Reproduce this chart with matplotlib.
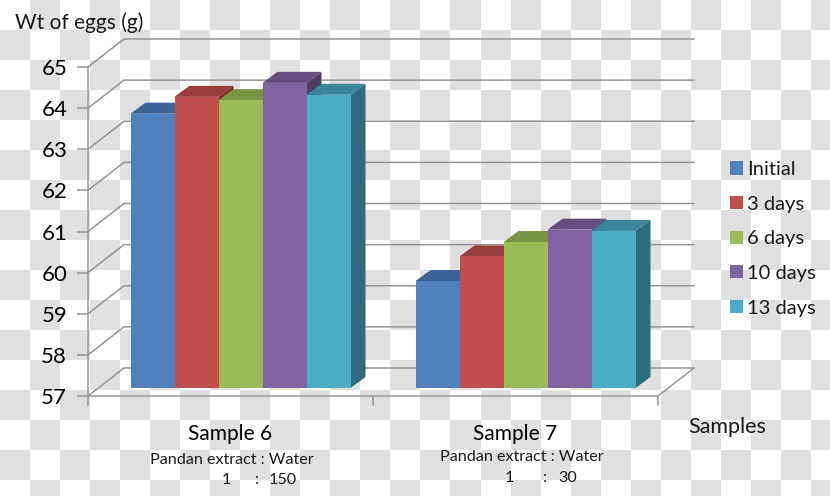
import matplotlib

matplotlib.use("Agg")
import matplotlib.pyplot as plt
import numpy as np

plt.rcParams["font.family"] = ["Lato", "DejaVu Sans"]

W, H = 830, 496

samples = ["Sample 6", "Sample 7"]
series = ["Initial", "3 days", "6 days", "10 days", "13 days"]
sample6 = [63.67, 64.08, 64.0, 64.42, 64.13]
sample7 = [59.6, 60.2, 60.55, 60.85, 60.82]
y_ticks = [57, 58, 59, 60, 61, 62, 63, 64, 65]

front_colors = ["#4f81bd", "#c0504d", "#9bbb59", "#8064a2", "#4bacc6"]
top_colors = ["#3b6396", "#973e3b", "#7a9446", "#644e80", "#3a869b"]
side_colors = ["#2f4d75", "#763130", "#5f7337", "#4e3d64", "#2e6b7c"]
grid_color = "#969696"

# pixel helpers, the chart is an oblique 3d look faked on a 2d axes
X0, X1, Y0, Y1 = 88, 658, 396, 67
PX_X = 2 / (X1 - X0)
PX_Y = (y_ticks[-1] - y_ticks[0]) / (Y0 - Y1)


def fig_xy(x, y):
    return x / W, 1 - y / H


fig = plt.figure(figsize=(W / 100, H / 100), dpi=100)

# checkerboard behind everything
bg = fig.add_axes([0, 0, 1, 1], zorder=0)
tiles = np.indices((H // 30 + 1, W // 30 + 1)).sum(axis=0) % 2
bg.imshow(
    tiles,
    cmap=matplotlib.colors.ListedColormap(["#ffffff", "#e0e0e0"]),
    extent=(0, 30 * tiles.shape[1], 30 * tiles.shape[0], 0),
    interpolation="nearest",
    aspect="auto",
)
bg.set_xlim(0, W)
bg.set_ylim(H, 0)
bg.axis("off")

ax = fig.add_axes(
    [X0 / W, 1 - Y0 / H, (X1 - X0) / W, (Y0 - Y1) / H], zorder=1, facecolor="none"
)
ax.set_xlim(0, 2)
ax.set_ylim(y_ticks[0], y_ticks[-1])

# back wall and the left / floor edges
back_dx, back_dy = 36 * PX_X, 28 * PX_Y
for v in y_ticks:
    ax.plot(
        [0, back_dx, 2 + back_dx],
        [v, v + back_dy, v + back_dy],
        color=grid_color,
        lw=1.1,
        clip_on=False,
        zorder=1,
    )
ax.plot(
    [2, 2 + back_dx],
    [y_ticks[0], y_ticks[0] + back_dy],
    color=grid_color,
    lw=1.1,
    clip_on=False,
    zorder=1,
)

# bars, pushed back from the front axis by front_dx / front_dy
bar_w = 44 * PX_X
front_dx, front_dy = 10 * PX_X, 8 * PX_Y
depth_dx, depth_dy = 15 * PX_X, 11 * PX_Y
base = y_ticks[0] + front_dy
for i, values in enumerate([sample6, sample7]):
    start = i + 0.5 - 2.5 * bar_w + front_dx
    for j, v in enumerate(values):
        x = start + j * bar_w
        x2 = x + bar_w
        top = v + front_dy
        ax.fill(
            [x, x2, x2 + depth_dx, x + depth_dx],
            [top, top, top + depth_dy, top + depth_dy],
            color=top_colors[j],
            lw=0,
            clip_on=False,
            zorder=2 + j,
        )
        ax.fill(
            [x2, x2 + depth_dx, x2 + depth_dx, x2],
            [base, base + depth_dy, top + depth_dy, top],
            color=side_colors[j],
            lw=0,
            clip_on=False,
            zorder=2 + j,
        )
        ax.bar(
            x,
            v - y_ticks[0],
            bottom=base,
            width=bar_w,
            align="edge",
            color=front_colors[j],
            label=series[j] if i == 0 else None,
            clip_on=False,
            zorder=2 + j,
        )

for side in ["top", "right"]:
    ax.spines[side].set_visible(False)
for side in ["left", "bottom"]:
    ax.spines[side].set_color(grid_color)
    ax.spines[side].set_linewidth(1.1)

ax.set_yticks(y_ticks)
ax.tick_params(axis="y", length=8, width=1.1, color=grid_color, labelsize=16, pad=7)
ax.set_xticks([0, 1, 2], labels=[])
ax.set_xticks([0.5, 1.5], labels=samples, minor=True)
ax.tick_params(axis="x", which="major", length=7, width=1.1, color=grid_color)
ax.tick_params(axis="x", which="minor", length=0, labelsize=15, pad=20)

fig.text(*fig_xy(15, 23), "Wt of eggs (g)", fontsize=15, va="center", color="#1a1a1a")
fig.text(*fig_xy(688, 427), "Samples", fontsize=15.5, va="center", color="#1a1a1a")

fig.text(*fig_xy(232, 460), "Pandan extract : Water", fontsize=11.6, ha="center", va="center", color="#1a1a1a")
fig.text(*fig_xy(222, 480), "1", fontsize=11.6, ha="left", va="center", color="#1a1a1a")
fig.text(*fig_xy(255, 480), ":", fontsize=11.6, ha="left", va="center", color="#1a1a1a")
fig.text(*fig_xy(269, 480), "150", fontsize=11.6, ha="left", va="center", color="#1a1a1a")

fig.text(*fig_xy(522, 457), "Pandan extract : Water", fontsize=11.6, ha="center", va="center", color="#1a1a1a")
fig.text(*fig_xy(505, 478), "1", fontsize=11.6, ha="left", va="center", color="#1a1a1a")
fig.text(*fig_xy(543, 478), ":", fontsize=11.6, ha="left", va="center", color="#1a1a1a")
fig.text(*fig_xy(558, 478), "30", fontsize=11.6, ha="left", va="center", color="#1a1a1a")

ax.legend(
    loc="upper left",
    bbox_to_anchor=fig_xy(714, 145),
    bbox_transform=fig.transFigure,
    frameon=False,
    fontsize=14.5,
    handlelength=0.62,
    handleheight=0.62,
    handletextpad=0.2,
    labelspacing=0.875,
    borderpad=0.3,
    labelcolor="#1a1a1a",
)

fig.savefig("out.png", dpi=100)
